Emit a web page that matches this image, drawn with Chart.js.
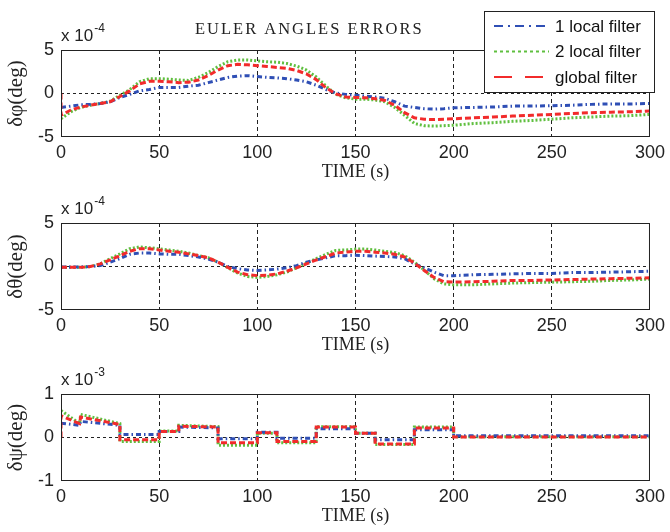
<!DOCTYPE html>
<html>
<head>
<meta charset="utf-8">
<script src="https://cdn.jsdelivr.net/npm/chart.js@4.4.1/dist/chart.umd.min.js"></script>
<style>
  body { margin: 0; background: #fff; }
  #figure { position: relative; width: 670px; height: 532px; overflow: hidden; background: #fff; }
  #figure canvas { position: absolute; left: 0; }
</style>
</head>
<body>
<div id="figure">
  <canvas id="phiChart" width="670" height="190" style="top:0px"></canvas>
  <canvas id="thetaChart" width="670" height="190" style="top:173px"></canvas>
  <canvas id="psiChart" width="670" height="190" style="top:344px"></canvas>
</div>
<script>
// ── Data ─────────────────────────────────────────────────────────────────────
const seriesLabels = ['1 local filter', '2 local filter', 'global filter'];
const xTicks = [0, 50, 100, 150, 200, 250, 300];

// δφ, units of 1e-4 deg (t=0 doubled so the global filter can jump from 0)
const timePhi = [0, 0, 5, 10, 15, 20, 25, 30, 35, 40, 45, 50, 55, 60, 65, 70, 75, 80, 85, 90, 95,
  100, 105, 110, 115, 120, 125, 130, 135, 140, 145, 150, 155, 160, 165, 170, 175, 180, 185, 190, 195,
  200, 210, 220, 230, 240, 250, 260, 270, 280, 290, 300];
const phiLocal1 = [-1.6, -1.6, -1.45, -1.3, -1.25, -1.15, -0.95, -0.45, -0.1, 0.3, 0.45, 0.7, 0.7, 0.7, 0.85, 0.95, 1.25, 1.55, 1.85, 2.0, 2.05,
  1.95, 1.85, 1.8, 1.7, 1.55, 1.35, 0.95, 0.45, 0.05, -0.1, -0.2, -0.3, -0.4, -0.55, -0.95, -1.45, -1.6, -1.75, -1.8, -1.75,
  -1.65, -1.6, -1.55, -1.45, -1.45, -1.4, -1.35, -1.25, -1.2, -1.2, -1.15];
const phiLocal2 = [-2.9, -2.9, -2.1, -1.6, -1.35, -1.15, -0.9, -0.2, 0.45, 1.35, 1.7, 1.7, 1.65, 1.55, 1.5, 1.85, 2.4, 3.1, 3.65, 3.85, 3.85,
  3.75, 3.65, 3.6, 3.45, 3.15, 2.7, 1.9, 0.85, -0.1, -0.5, -0.65, -0.65, -0.75, -0.95, -1.6, -2.5, -3.45, -3.7, -3.75, -3.7,
  -3.65, -3.45, -3.35, -3.2, -3.1, -2.95, -2.8, -2.7, -2.6, -2.55, -2.4];
const phiGlobal = [0, -2.5, -1.9, -1.55, -1.35, -1.15, -0.95, -0.35, 0.3, 1.1, 1.4, 1.4, 1.35, 1.25, 1.3, 1.55, 2.05, 2.7, 3.2, 3.35, 3.3,
  3.2, 3.1, 3.0, 2.9, 2.65, 2.25, 1.6, 0.65, -0.05, -0.4, -0.45, -0.5, -0.6, -0.8, -1.35, -2.2, -2.8, -2.95, -3.0, -2.95,
  -2.9, -2.8, -2.7, -2.6, -2.5, -2.4, -2.3, -2.2, -2.15, -2.1, -2.0];

// δθ, units of 1e-4 deg
const timeTheta = [0, 5, 10, 15, 20, 25, 30, 35, 40, 45, 50, 55, 60, 65, 70, 75, 80, 85, 90, 95,
  100, 105, 110, 115, 120, 125, 130, 135, 140, 145, 150, 155, 160, 165, 170, 175, 180, 185, 190, 195,
  200, 210, 220, 230, 240, 250, 260, 270, 280, 290, 300];
const thetaLocal1 = [-0.05, -0.05, -0.05, 0, 0.1, 0.5, 0.9, 1.4, 1.55, 1.55, 1.45, 1.4, 1.4, 1.25, 1.1, 0.85, 0.5, 0, -0.25, -0.4,
  -0.45, -0.4, -0.3, -0.15, 0.1, 0.5, 0.75, 1.0, 1.25, 1.25, 1.3, 1.25, 1.2, 1.15, 1.1, 0.9, 0.3, -0.15, -0.65, -1.05,
  -1.05, -0.95, -0.9, -0.85, -0.8, -0.8, -0.7, -0.7, -0.65, -0.6, -0.55];
const thetaLocal2 = [-0.1, -0.1, -0.1, 0, 0.3, 0.9, 1.45, 2.05, 2.25, 2.15, 2.05, 1.9, 1.75, 1.55, 1.25, 1.0, 0.5, -0.15, -0.75, -1.15,
  -1.25, -1.15, -0.95, -0.65, -0.15, 0.4, 0.9, 1.4, 1.85, 1.9, 2.0, 2.0, 1.9, 1.75, 1.6, 1.25, 0.5, -0.4, -1.4, -2.0,
  -2.1, -2.1, -2.0, -1.9, -1.85, -1.8, -1.75, -1.7, -1.6, -1.55, -1.45];
const thetaGlobal = [-0.1, -0.1, -0.1, 0, 0.3, 0.75, 1.25, 1.75, 2.05, 2.05, 1.9, 1.75, 1.65, 1.45, 1.25, 1.0, 0.5, -0.1, -0.65, -0.95,
  -1.05, -1.0, -0.85, -0.55, -0.15, 0.3, 0.75, 1.15, 1.55, 1.65, 1.75, 1.75, 1.65, 1.55, 1.4, 1.1, 0.4, -0.45, -1.25, -1.75,
  -1.8, -1.75, -1.7, -1.6, -1.6, -1.55, -1.5, -1.45, -1.4, -1.35, -1.3];

// δψ, units of 1e-3 deg (doubled times are the steps)
const timePsi = [0, 0, 9.5, 10, 30, 30, 50, 50, 60, 60, 80, 80, 100, 100, 110, 110, 130, 130,
  150, 150, 160, 160, 180, 180, 200, 200, 300];
const psiLocal1 = [0.33, 0.33, 0.28, 0.37, 0.28, 0.07, 0.07, 0.14, 0.14, 0.24, 0.22, -0.03, -0.03, 0.12, 0.12, -0.02, -0.02, 0.2,
  0.2, 0.1, 0.1, -0.05, -0.05, 0.18, 0.18, 0.04, 0.04];
const psiLocal2 = [0.62, 0.62, 0.32, 0.53, 0.32, -0.09, -0.09, 0.15, 0.15, 0.28, 0.25, -0.18, -0.18, 0.1, 0.1, -0.12, -0.12, 0.25,
  0.25, 0.1, 0.1, -0.16, -0.16, 0.24, 0.24, 0.02, 0.02];
const psiGlobal = [0, 0.5, 0.32, 0.47, 0.3, -0.05, -0.05, 0.14, 0.14, 0.26, 0.24, -0.12, -0.12, 0.11, 0.11, -0.09, -0.09, 0.24,
  0.24, 0.1, 0.1, -0.15, -0.15, 0.22, 0.22, 0.01, 0.01];

// ── Styling ──────────────────────────────────────────────────────────────────
const COLORS = ['#2f4fb5', '#5fbf3f', '#f22b2b'];
const PLOT_DASH = [[5, 3, 1.5, 3], [2, 2], [6, 3]];
const LEGEND_DASH = [[9, 5, 2, 5], [3, 3], [18, 13]];
const DRAW_ORDER = [1, 2, 0];
const INK = '#222';
const SANS = '"Liberation Sans", Arial, sans-serif';
const SERIF = '"Liberation Serif", "Times New Roman", serif';

const toPoints = (xs, ys) => xs.map((x, i) => ({ x, y: ys[i] }));

// Frame, exponent label, title and boxed legend (MATLAB look)
const decorPlugin = {
    id: 'decor',
    afterDatasetsDraw(chart) {
        const { ctx, chartArea: a } = chart;
        ctx.save();
        ctx.strokeStyle = INK;
        ctx.lineWidth = 1;
        ctx.strokeRect(a.left + 0.5, a.top + 0.5, a.width - 1, a.height - 1);
        ctx.restore();
    },
    afterDraw(chart, args, opts) {
        const { ctx, chartArea: a } = chart;
        ctx.save();
        ctx.fillStyle = INK;
        ctx.textBaseline = 'alphabetic';

        // "x 10^-n"
        ctx.font = `17px ${SANS}`;
        ctx.fillText('x 10', a.left, a.top - 9);
        const w = ctx.measureText('x 10').width;
        ctx.font = `12px ${SANS}`;
        ctx.fillText(opts.power, a.left + w + 1, a.top - 18);

        if (opts.title) {
            ctx.font = `16.5px ${SERIF}`;
            ctx.letterSpacing = '2px';
            ctx.fillText(opts.title, 195, 34);
            ctx.letterSpacing = '0px';
        }

        if (opts.legend) {
            const box = { x: 484, y: 11, w: 170, h: 81 };
            ctx.fillStyle = '#fff';
            ctx.fillRect(box.x, box.y, box.w, box.h);
            ctx.strokeStyle = INK;
            ctx.lineWidth = 1;
            ctx.strokeRect(box.x + 0.5, box.y + 0.5, box.w, box.h);
            ctx.font = `17px ${SANS}`;
            ctx.textBaseline = 'middle';
            chart.data.datasets.forEach((ds, i) => {
                const y = 26 + i * 25.5;
                ctx.strokeStyle = ds.borderColor;
                ctx.lineWidth = 2;
                ctx.setLineDash(LEGEND_DASH[i]);
                ctx.beginPath();
                ctx.moveTo(494, y);
                ctx.lineTo(549, y);
                ctx.stroke();
                ctx.setLineDash([]);
                ctx.fillStyle = '#111';
                ctx.fillText(ds.label, 555, y + 1);
            });
        }
        ctx.restore();
    },
};

function makeChart(canvasId, time, series, yRange, yTitle, decor) {
    const datasets = series.map((values, i) => ({
        label: seriesLabels[i],
        data: toPoints(time, values),
        borderColor: COLORS[i],
        borderWidth: 3,
        borderDash: PLOT_DASH[i],
        pointRadius: 0,
        tension: 0,
        fill: false,
        order: DRAW_ORDER[i],
    }));

    return new Chart(document.getElementById(canvasId), {
        type: 'line',
        data: { datasets },
        plugins: [decorPlugin],
        options: {
            responsive: false,
            animation: false,
            events: [],
            devicePixelRatio: 1,
            layout: { padding: { top: 50, left: 0, right: 15, bottom: 3 } },
            plugins: {
                legend: { display: false },
                tooltip: { enabled: false },
                decor,
            },
            scales: {
                x: {
                    type: 'linear',
                    min: xTicks[0],
                    max: xTicks[xTicks.length - 1],
                    afterBuildTicks: (scale) => { scale.ticks = xTicks.map((v) => ({ value: v })); },
                    afterFit: (scale) => { scale.height = 50; },
                    ticks: { color: INK, font: { family: SANS, size: 18 }, padding: 5, maxRotation: 0, autoSkip: false },
                    grid: {
                        drawTicks: false,
                        lineWidth: 1,
                        color: (c) => (c.tick && c.tick.value > xTicks[0] && c.tick.value < xTicks[xTicks.length - 1]) ? INK : 'rgba(0,0,0,0)',
                    },
                    border: { display: false, dash: [4, 3] },
                    title: { display: true, text: 'TIME (s)', color: INK, font: { family: SERIF, size: 18 }, padding: { top: 0, bottom: 4 } },
                },
                y: {
                    min: yRange[0],
                    max: yRange[yRange.length - 1],
                    afterBuildTicks: (scale) => { scale.ticks = yRange.map((v) => ({ value: v })); },
                    afterFit: (scale) => { scale.width = 61; },
                    ticks: { color: INK, font: { family: SANS, size: 18 }, padding: 7 },
                    grid: {
                        drawTicks: false,
                        lineWidth: 1,
                        color: (c) => (c.tick && c.tick.value === 0) ? INK : 'rgba(0,0,0,0)',
                    },
                    border: { display: false, dash: [3, 3] },
                    title: { display: true, text: yTitle, color: INK, font: { family: SERIF, size: 21 }, padding: { top: 4, bottom: 4 } },
                },
            },
        },
    });
}

makeChart('phiChart', timePhi, [phiLocal1, phiLocal2, phiGlobal], [-5, 0, 5], 'δφ(deg)',
    { power: '-4', title: 'EULER ANGLES ERRORS', legend: true });
makeChart('thetaChart', timeTheta, [thetaLocal1, thetaLocal2, thetaGlobal], [-5, 0, 5], 'δθ(deg)',
    { power: '-4' });
makeChart('psiChart', timePsi, [psiLocal1, psiLocal2, psiGlobal], [-1, 0, 1], 'δψ(deg)',
    { power: '-3' });
</script>
</body>
</html>
